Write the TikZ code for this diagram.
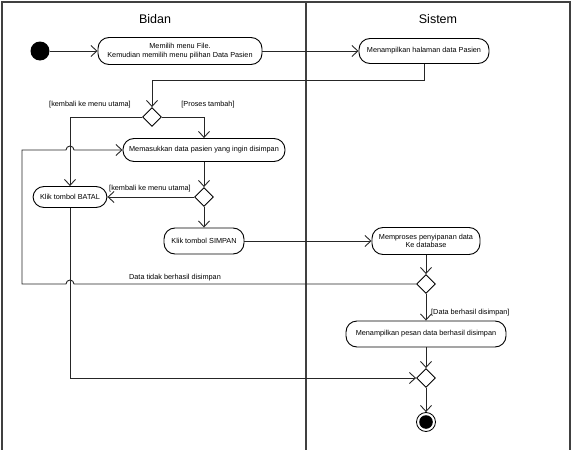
\documentclass[tikz,border=0pt]{standalone}
\usepackage{fontspec}
\setmainfont{Liberation Sans}
\usetikzlibrary{arrows.meta,shapes.geometric}
\begin{document}
\begin{tikzpicture}[x=1pt,y=-1pt,
  every node/.style={font=\fontsize{7.3}{8.6}\selectfont},
  act/.style={draw=black,line width=0.9pt,rounded corners=11pt,inner sep=2pt,align=center,fill=white},
  dec/.style={draw=black,line width=0.9pt,diamond,aspect=1,minimum width=19pt,minimum height=19pt,inner sep=0pt,fill=white},
  arr/.style={draw=black!85,line width=0.9pt,-{Straight Barb[length=6pt,width=11pt]}},
  ln/.style={draw=black!85,line width=0.9pt},
  lbl/.style={inner sep=1pt},
  frame/.style={draw=black!75,line width=1.3pt},
  title/.style={font=\fontsize{12.5}{14}\selectfont}]
\useasboundingbox (0,0) rectangle (574,450);
% swimlane frame
\draw[frame] (2,450) -- (2,2) -- (570,2) -- (570,450);
\draw[frame,line width=1.8pt] (306,2) -- (306,450);
\node[title] (tb) at (155,19) {Bidan};
\node[title] (ts) at (438,19) {Sistem};
% nodes
\node[circle,fill=black,minimum size=19pt,inner sep=0pt] (start) at (40,51) {};
\node[act,minimum width=164pt,minimum height=27pt] (n1) at (180,51) {Memilih menu File.\\Kemudian memilih menu pilihan Data Pasien};
\node[act,minimum width=130pt,minimum height=25pt] (n2) at (424,51) {Menampilkan halaman data Pasien};
\node[dec] (d1) at (152,117) {};
\node[act,minimum width=162pt,minimum height=23pt] (mem) at (204,150) {Memasukkan data pasien yang ingin disimpan};
\node[dec] (d2) at (204,197) {};
\node[act,minimum width=74pt,minimum height=21pt] (batal) at (70,197) {Klik tombol BATAL};
\node[act,minimum width=80pt,minimum height=26pt] (simpan) at (204,241) {Klik tombol SIMPAN};
\node[act,minimum width=108pt,minimum height=27pt] (proses) at (426,241) {Memproses penyipanan data\\Ke database};
\node[dec] (d3) at (426,284) {};
\node[act,minimum width=160pt,minimum height=26pt] (pesan) at (426,334) {Menampilkan pesan data berhasil disimpan};
\node[dec] (d4) at (426,378) {};
\node[circle,draw=black,line width=0.8pt,fill=white,minimum size=19pt,inner sep=0pt] (end) at (426,422) {};
\fill[black] (end.center) circle (6.8pt);
% connectors
\draw[arr] (start) -- (n1);
\draw[arr] (n1) -- (n2);
\draw[arr] (n2.south) -- ++(0,16) -| (d1.north);
\draw[arr] (d1.west) -| (batal.north);
\draw[arr] (d1.east) -| (mem.north);
\draw[arr] (mem.south) -- (d2.north);
\draw[arr] (d2.west) -- (batal.east);
\draw[arr] (d2.south) -- (simpan.north);
\draw[arr] (simpan.east) -- (proses.west);
\draw[arr] (proses.south) -- (d3.north);
\draw[arr] (d3.west) -- (74,284) arc[start angle=0,end angle=-180,radius=4] -- (22,284) -- (22,150) -- (66,150) arc[start angle=180,end angle=360,radius=4] -- (mem.west);
\draw[arr] (d3.south) -- (pesan.north);
\draw[arr] (pesan.south) -- (d4.north);
\draw[arr] (batal.south) -- (70,378) -- (d4.west);
\draw[arr] (d4.south) -- (end.north);
% labels
\node[lbl] (l1) at (90,105) {[kembali ke menu utama]};
\node[lbl] (l2) at (208,105) {[Proses tambah]};
\node[lbl] (l3) at (150,189) {[kembali ke menu utama]};
\node[lbl] (l4) at (175,278) {Data tidak berhasil disimpan};
\node[lbl,anchor=west] (l5) at (430,313) {[Data berhasil disimpan]};
\end{tikzpicture}
\end{document}
